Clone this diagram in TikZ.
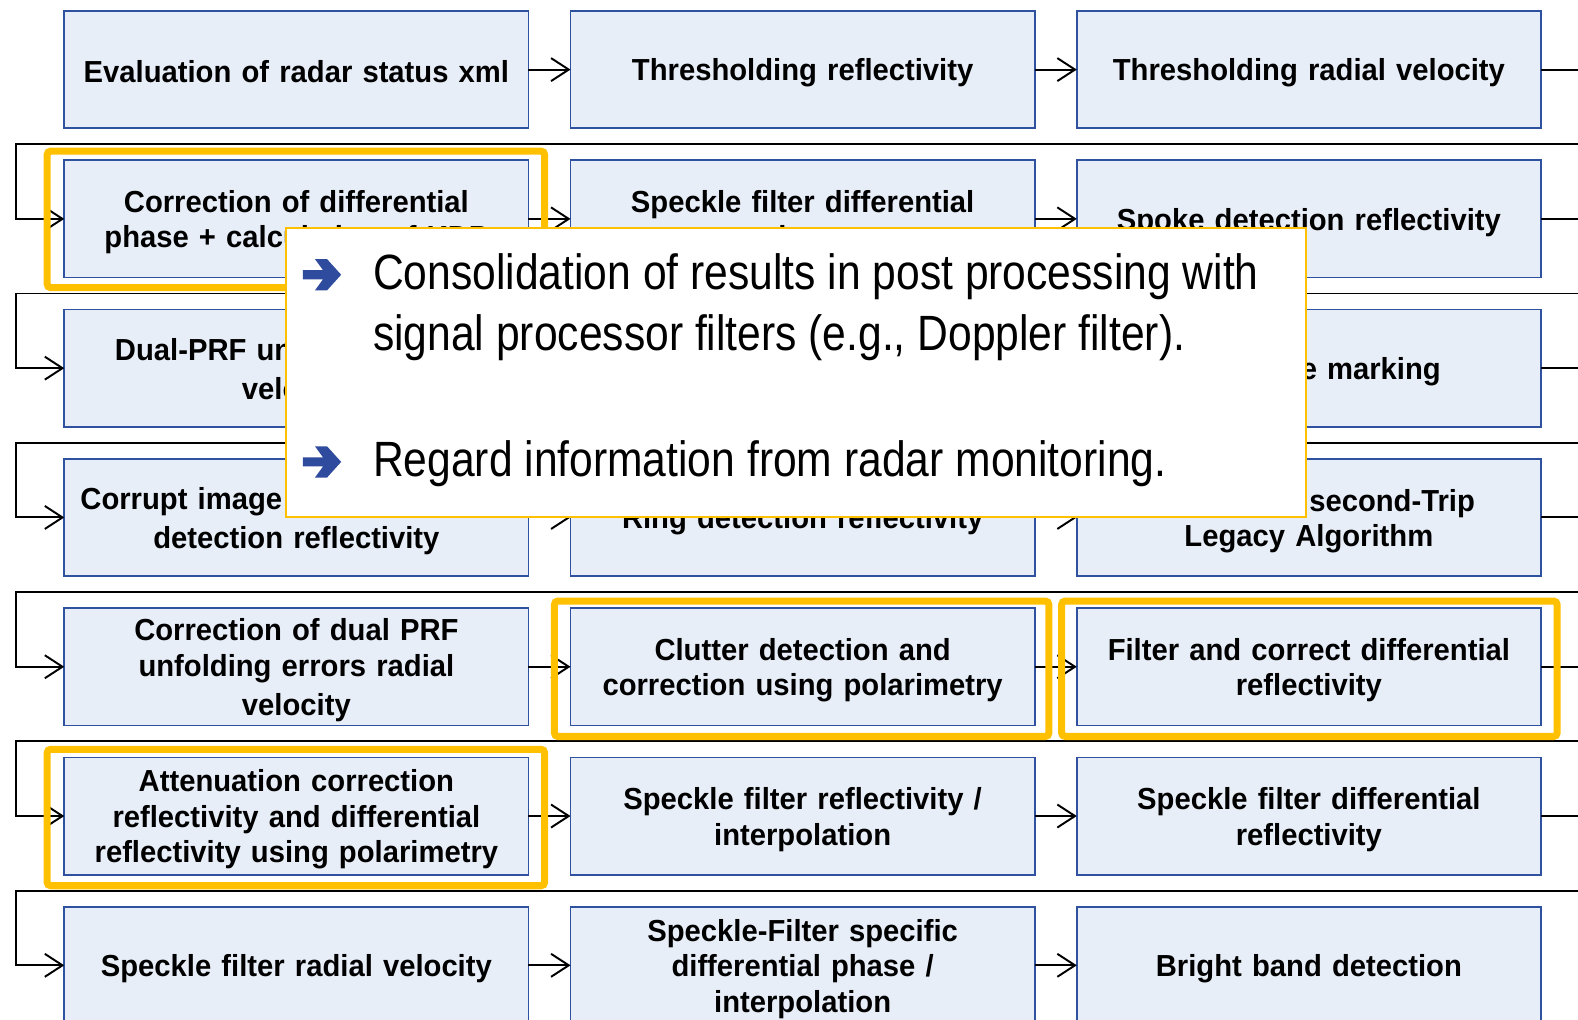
\documentclass[tikz,border=0pt]{standalone}
\usepackage{fontspec}
\setmainfont{Liberation Sans}
\newfontfamily\boxfont[FakeStretch=0.96]{Liberation Sans}
\newfontfamily\notefont[FakeStretch=0.86]{Liberation Sans}
\usetikzlibrary{matrix,arrows.meta,calc}
\definecolor{boxfill}{RGB}{232,238,248}
\definecolor{boxline}{RGB}{47,82,160}
\definecolor{hiyellow}{RGB}{255,192,0}
\definecolor{arrowblue}{RGB}{47,75,158}
\newcommand\boxstrut{\rule[-1pt]{0pt}{9.2pt}}
\tikzset{
  stepbox/.style={draw=boxline, fill=boxfill, line width=0.5pt, minimum width=4.61cm, minimum height=1.165cm,
    text width=4.4cm, align=center, inner sep=0pt, anchor=center, font=\boxfont\bfseries\fontsize{8.6}{10}\selectfont,
    execute at begin node=\boxstrut, execute at end node=\boxstrut},
  flow/.style={-{Straight Barb[length=5pt,width=6.5pt]}, line width=0.55pt},
  hilite/.style={draw=hiyellow, line width=2pt, rounded corners=1pt},
  notebox/.style={draw=hiyellow, fill=white, line width=0.5pt, minimum width=10.13cm, minimum height=2.87cm, inner sep=0pt},
  notetext/.style={align=left, inner sep=0pt, font=\notefont\fontsize{14}{17.35}\selectfont},
  notearrow/.pic={\fill[arrowblue] (-19,-4.5) -- (1,-4.5) -- (-7,-15.5) -- (5,-15.5) -- (19,0)
    -- (5,15.5) -- (-7,15.5) -- (1,4.5) -- (-19,4.5) -- cycle;},
}
\begin{document}
\begin{tikzpicture}[x=0.01cm, y=-0.01cm]
  \useasboundingbox (0,0) rectangle (1568,1013);
  \clip (0,0) rectangle (1568,1013);
  \matrix (m) [matrix of nodes, anchor=north west, inner sep=0pt, outer sep=0pt, row sep=0.3cm, column sep=0.4cm, nodes={stepbox}] at (63,10)
  {
    Evaluation of radar status xml & Thresholding reflectivity & Thresholding radial velocity \\
    {Correction of differential\\phase + calculation of KDP} & {Speckle filter differential\\phase} & Spoke detection reflectivity \\
    {Dual-PRF unfolding radial\\velocity} & {Spoke detection radial\\velocity} & Sun spike marking \\
    {Corrupt image / Damaged rays\\detection reflectivity} & Ring detection reflectivity & {Clutter and second-Trip\\Legacy Algorithm} \\
    {Correction of dual PRF\\unfolding errors radial\\velocity} & {Clutter detection and\\correction using polarimetry} & {Filter and correct differential\\reflectivity} \\
    {Attenuation correction\\reflectivity and differential\\reflectivity using polarimetry} & {Speckle filter reflectivity /\\interpolation} & {Speckle filter differential\\reflectivity} \\
    Speckle filter radial velocity & {Speckle-Filter specific\\differential phase /\\interpolation} & Bright band detection \\
  };
  % steps within a row
  \foreach \r in {1,...,7}{
    \draw[flow] (m-\r-1) -- (m-\r-2);
    \draw[flow] (m-\r-2) -- (m-\r-3);
  }
  % wrap to the next row
  \foreach \r in {1,...,6}{
    \pgfmathtruncatemacro\nx{\r+1}
    \coordinate (gr) at ($(m-\r-3.south east)!.5!(m-\nx-3.north east)+(60,0)$);
    \coordinate (gl) at ($(m-\r-1.south west)!.5!(m-\nx-1.north west)+(-48,0)$);
    \draw[flow] (m-\r-3.east) -| (gr) -- (gl) |- (m-\nx-1.west);
  }
  % highlighted steps
  \draw[hilite] ([shift={(-17,-9)}]m-2-1.north west) rectangle ([shift={(16,10)}]m-2-1.south east);
  \draw[hilite] ([shift={(-16,-7)}]m-5-2.north west) rectangle ([shift={(14,11)}]m-5-2.south east);
  \draw[hilite] ([shift={(-15,-7)}]m-5-3.north west) rectangle ([shift={(16,11)}]m-5-3.south east);
  \draw[hilite] ([shift={(-17,-8)}]m-6-1.north west) rectangle ([shift={(16,11)}]m-6-1.south east);
  % note on top
  \node[notebox, anchor=north west] (note) at (283,226) {};
  \pic at ([shift={(37,47)}]note.north west) {notearrow};
  \node[notetext, anchor=west] (txt1) at ([shift={(87,79)}]note.north west)
    {Consolidation of results in post processing with\\signal processor filters (e.g., Doppler filter).};
  \pic at ([shift={(37,233)}]note.north west) {notearrow};
  \node[notetext, anchor=west] (txt2) at ([shift={(87,235)}]note.north west)
    {Regard information from radar monitoring.};
\end{tikzpicture}
\end{document}
